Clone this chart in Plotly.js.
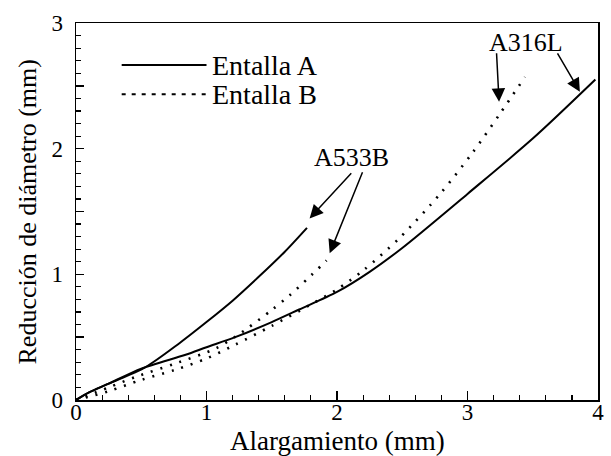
<!DOCTYPE html>
<html>
<head>
<meta charset="utf-8">
<script src="https://cdn.plot.ly/plotly-3.0.1.min.js"></script>
<style>html,body{margin:0;padding:0;background:#fff;}#chart{width:611px;height:456px;}</style>
</head>
<body>
<div id="chart"></div>
<script>
// Entalla A (solid), A533B
const a533A_x = [0, 0.1, 0.25, 0.53, 0.79, 1.0, 1.2, 1.4, 1.6, 1.77];
const a533A_y = [0, 0.06, 0.13, 0.26, 0.45, 0.62, 0.79, 0.98, 1.18, 1.37];
// Entalla A (solid), A316L
const a316A_x = [0, 0.1, 0.25, 0.5, 0.84, 1.0, 1.22, 1.5, 1.71, 2.0, 2.25, 2.5, 3.0, 3.5, 3.98];
const a316A_y = [0, 0.06, 0.13, 0.25, 0.36, 0.42, 0.50, 0.62, 0.72, 0.86, 1.02, 1.21, 1.64, 2.08, 2.55];
// Entalla B (dotted), A533B
const a533B_x = [0, 0.25, 0.46, 0.76, 1.07, 1.23, 1.30, 1.50, 1.64, 1.78, 1.92];
const a533B_y = [0, 0.10, 0.185, 0.29, 0.41, 0.51, 0.56, 0.716, 0.835, 0.97, 1.11];
// Entalla B (dotted), A316L
const a316B_x = [0, 0.25, 0.5, 0.76, 1.0, 1.22, 1.5, 1.8, 2.0, 2.2, 2.48, 2.79, 3.04, 3.25, 3.44];
const a316B_y = [0, 0.07, 0.16, 0.24, 0.33, 0.44, 0.59, 0.76, 0.88, 1.03, 1.29, 1.64, 1.97, 2.28, 2.57];

const legendLabels = ["Entalla A", "Entalla B"];
const materialLabels = ["A533B", "A316L"];
const axisTitles = ["Alargamiento (mm)", "Reducción de diámetro (mm)"];
const xTickVals = [0, 1, 2, 3, 4];
const yTickVals = [0, 0.5, 1, 1.5, 2, 2.5, 3];
const yTickText = ["0", "", "1", "", "2", "", "3"];

const FONT = "'Liberation Serif', 'Times New Roman', Times, 'DejaVu Serif', serif";
const solid = {color: "#000", width: 2, shape: "spline", smoothing: 0.8};
const dotted = {color: "#000", width: 2.6, dash: "2px,8px", shape: "spline", smoothing: 0.8};

const traces = [
  {x: a533A_x, y: a533A_y, mode: "lines", line: solid, name: legendLabels[0]},
  {x: a316A_x, y: a316A_y, mode: "lines", line: solid, name: legendLabels[0]},
  {x: a533B_x, y: a533B_y, mode: "lines", line: dotted, name: legendLabels[1]},
  {x: a316B_x, y: a316B_y, mode: "lines", line: dotted, name: legendLabels[1]}
];

function arrow(hx, hy, tx, ty) {
  return {x: hx, y: hy, ax: tx, ay: ty, xref: "x", yref: "y", axref: "x", ayref: "y",
          text: "", showarrow: true, arrowhead: 2, arrowsize: 1.8, arrowwidth: 1.5, arrowcolor: "#000"};
}

const layout = {
  width: 611, height: 456,
  margin: {l: 76, r: 13, t: 23, b: 56},
  paper_bgcolor: "#fff", plot_bgcolor: "#fff",
  showlegend: false,
  font: {family: FONT, color: "#000", size: 22},
  xaxis: {
    range: [0, 4], tickvals: xTickVals, ticks: "inside", ticklen: 9, tickwidth: 1.5, tickcolor: "#000",
    minor: {dtick: 0.2, ticks: "inside", ticklen: 5, tickwidth: 1.2, tickcolor: "#000"},
    showline: true, linecolor: "#000", linewidth: 1.5, mirror: true, showgrid: false, zeroline: false,
    tickfont: {family: FONT, size: 23}, automargin: false, ticklabelstandoff: -9
  },
  yaxis: {
    range: [0, 3], tickvals: yTickVals, ticktext: yTickText, ticks: "inside", ticklen: 8, tickwidth: 1.5, tickcolor: "#000",
    minor: {dtick: 0.1, ticks: "inside", ticklen: 5, tickwidth: 1.2, tickcolor: "#000"},
    showline: true, linecolor: "#000", linewidth: 1.5, mirror: true, showgrid: false, zeroline: false,
    tickfont: {family: FONT, size: 23}, automargin: false, ticklabelstandoff: 7
  },
  shapes: [
    {type: "line", xref: "x", yref: "y", x0: 0.35, x1: 1.0, y0: 2.665, y1: 2.665, line: {color: "#000", width: 2}},
    {type: "line", xref: "x", yref: "y", x0: 0.35, x1: 1.0, y0: 2.434, y1: 2.434, line: {color: "#000", width: 2, dash: "4px,6px"}}
  ],
  annotations: [
    {x: 0.5, y: -0.108, xref: "paper", yref: "paper", text: axisTitles[0], showarrow: false, xanchor: "center", yanchor: "middle", font: {family: FONT, size: 27}},
    {x: -0.092, y: 0.5, xref: "paper", yref: "paper", text: axisTitles[1], showarrow: false, textangle: -90, xanchor: "center", yanchor: "middle", font: {family: FONT, size: 26}},
    {x: 1.03, y: 2.665, xref: "x", yref: "y", text: legendLabels[0], showarrow: false, xanchor: "left", yanchor: "middle", font: {family: FONT, size: 28}},
    {x: 1.03, y: 2.434, xref: "x", yref: "y", text: legendLabels[1], showarrow: false, xanchor: "left", yanchor: "middle", font: {family: FONT, size: 28}},
    {x: 2.113, y: 1.933, xref: "x", yref: "y", text: materialLabels[0], showarrow: false, font: {family: FONT, size: 26}},
    {x: 3.451, y: 2.848, xref: "x", yref: "y", text: materialLabels[1], showarrow: false, font: {family: FONT, size: 26}},
    arrow(1.79, 1.445, 2.12, 1.816),
    arrow(1.944, 1.167, 2.20, 1.824),
    arrow(3.242, 2.373, 3.222, 2.771),
    arrow(3.861, 2.453, 3.683, 2.771)
  ]
};

Plotly.newPlot("chart", traces, layout, {staticPlot: true, displayModeBar: false});
</script>
</body>
</html>
